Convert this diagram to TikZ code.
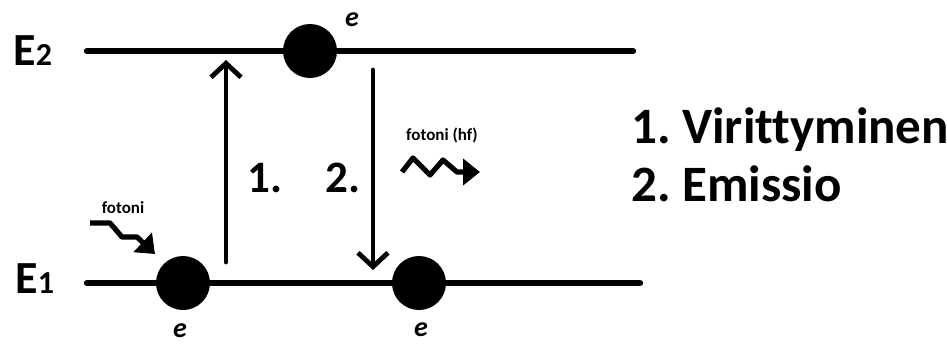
\documentclass[tikz,border=0pt]{standalone}
\usepackage{fontspec}
\setmainfont[Ligatures=NoCommon]{Carlito}
\usetikzlibrary{arrows.meta, positioning}

\begin{document}
\begin{tikzpicture}[
    x=0.5pt, y=-0.5pt,
    level/.style={line width=3.2pt, line cap=round},
    electron/.style={circle, fill=black, minimum size=27pt, inner sep=0pt},
    elabel/.style={inner sep=0pt, font=\fontsize{14}{16}\selectfont\bfseries\itshape},
    trans/.style={line width=2.4pt, line cap=round,
                  -{Straight Barb[length=7pt, width=15pt]}},
    photon/.style={line width=2.6pt, line join=round,
                   -{Triangle[length=8.5pt, width=13pt]}},
    lvlname/.style={inner sep=0pt, anchor=base west, font=\fontsize{23}{26}\selectfont\bfseries},
    stepno/.style={inner sep=0pt, font=\fontsize{22.5}{26}\selectfont\bfseries},
    legend/.style={inner sep=0pt, anchor=base west, font=\fontsize{25.5}{30}\selectfont\bfseries},
    tiny label/.style={inner sep=0pt, font=\fontsize{8.5}{10}\selectfont\bfseries}
  ]
  \useasboundingbox (0,0) rectangle (947,343);

  % Energy levels
  \node[lvlname] (E2) at (13,65) {E{\fontsize{16}{18}\selectfont 2}};
  \node[lvlname] (E1) at (15,293) {E{\fontsize{16}{18}\selectfont 1}};
  \coordinate (e2l) at (87,51);
  \coordinate (e2r) at (633,51);
  \coordinate (e1l) at (87,283);
  \coordinate (e1r) at (640,283);
  \draw[level] (e2l) -- (e2r);
  \draw[level] (e1l) -- (e1r);

  % Electrons
  \node[electron] (upper) at (310,51) {};
  \node[electron] (lowA) at (183,283) {};
  \node[electron] (lowB) at (419,283) {};
  \node[elabel] (eup) at (352,20) {e};
  \node[elabel] (elowA) at (180,331) {e};
  \node[elabel] (elowB) at (421,330) {e};

  % Transitions
  \coordinate (exc0) at (226,262);
  \coordinate (exc1) at (226,60);
  \coordinate (emi0) at (373,70);
  \coordinate (emi1) at (373,270);
  \draw[trans] (exc0) -- (exc1);
  \draw[trans] (emi0) -- (emi1);
  \node[stepno] (n1) at (265,178) {1.};
  \node[stepno] (n2) at (343,178) {2.};

  % Photons
  \node[tiny label] (fin) at (123,208) {fotoni};
  \coordinate (pin) at (90,223);
  \draw[photon] (pin) -- (110,223) -- (122,237) -- (137,237) -- (155,254);
  \node[tiny label] (fout) at (442,135) {fotoni (hf)};
  \coordinate (pout) at (402,172);
  \draw[photon] (pout) -- (413,158) -- (430,175) -- (443,160) -- (457,172) -- (480,172);

  % Legend
  \node[legend] (leg1) at (631,143) {1.\kern-2pt{} Virittyminen};
  \node[legend] (leg2) at (631,201) {2.\kern-2pt{} Emissio};

\end{tikzpicture}
\end{document}
